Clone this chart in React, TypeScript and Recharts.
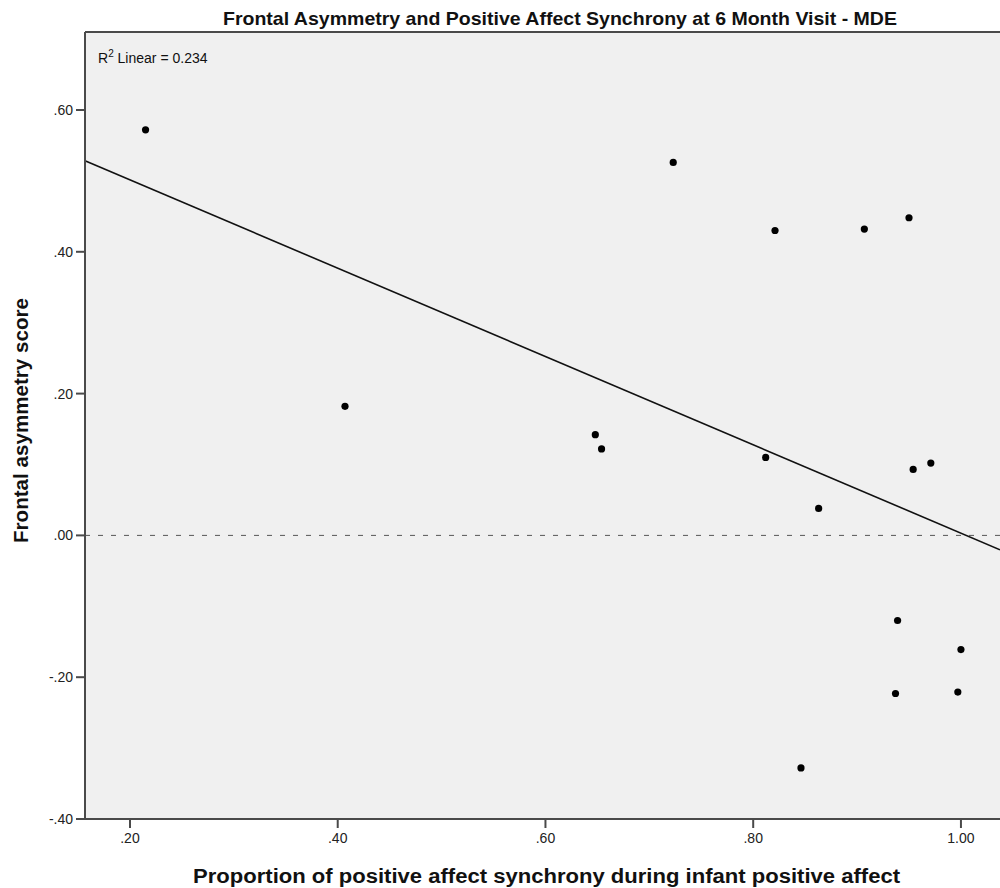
import React from 'react';
import { ScatterChart, Scatter, XAxis, YAxis, ReferenceLine, ReferenceArea } from 'recharts';

// Proportion of positive affect synchrony during infant positive affect
const synchrony = [0.215, 0.407, 0.723, 0.821, 0.907, 0.950, 0.648, 0.654, 0.812, 0.954, 0.971, 0.863, 0.939, 1.0, 0.937, 0.997, 0.846];
// Frontal asymmetry score
const asymmetry = [0.572, 0.182, 0.526, 0.430, 0.432, 0.448, 0.142, 0.122, 0.110, 0.093, 0.102, 0.038, -0.120, -0.161, -0.223, -0.221, -0.328];

const xTicks = [0.2, 0.4, 0.6, 0.8, 1.0];
const yTicks = [-0.4, -0.2, 0, 0.2, 0.4, 0.6];
const xDomain = [0.1567, 1.0376];
const yDomain = [-0.4, 0.71];

const points = synchrony.map((x, i) => ({ x, y: asymmetry[i] }));

// least squares fit
const n = synchrony.length;
const mx = synchrony.reduce((a, b) => a + b, 0) / n;
const my = asymmetry.reduce((a, b) => a + b, 0) / n;
let sxy = 0, sxx = 0;
for (let i = 0; i < n; i++) {
  sxy += (synchrony[i] - mx) * (asymmetry[i] - my);
  sxx += (synchrony[i] - mx) ** 2;
}
const slope = sxy / sxx;
const intercept = my - slope * mx;
const fitSegment = [
  { x: xDomain[0], y: intercept + slope * xDomain[0] },
  { x: xDomain[1], y: intercept + slope * xDomain[1] },
];

const fmt = (v: number) => {
  if (Math.abs(v - 1) < 1e-9) return '1.00';
  const s = Math.abs(v).toFixed(2).replace(/^0/, '');
  return v < -1e-9 ? '-' + s : s;
};

const FONT = '"Liberation Sans", Arial, sans-serif';
const AXIS = '#4a4a4a';

const Dot = (props: any) => <circle cx={props.cx} cy={props.cy} r={3.6} fill="#000" />;

export default function App() {
  return (
    <div style={{ position: 'absolute', left: 0, top: 0, width: 1000, height: 888, background: '#fff', fontFamily: FONT }}>
      <ScatterChart width={1000} height={888} margin={{ top: 32, right: 0, bottom: 0, left: 0 }}>
        <XAxis
          type="number"
          dataKey="x"
          domain={xDomain}
          allowDataOverflow
          ticks={xTicks}
          tickFormatter={fmt}
          height={69}
          tickSize={9}
          tickMargin={5}
          axisLine={{ stroke: AXIS, strokeWidth: 2 }}
          tickLine={{ stroke: AXIS, strokeWidth: 2 }}
          tick={{ fill: '#222', fontSize: 14, fontFamily: FONT }}
        />
        <YAxis
          type="number"
          dataKey="y"
          domain={yDomain}
          allowDataOverflow
          ticks={yTicks}
          tickFormatter={fmt}
          width={85}
          tickSize={9}
          tickMargin={3}
          axisLine={{ stroke: AXIS, strokeWidth: 2 }}
          tickLine={{ stroke: AXIS, strokeWidth: 2 }}
          tick={{ fill: '#222', fontSize: 14, fontFamily: FONT }}
        />
        <ReferenceArea x1={xDomain[0]} x2={xDomain[1]} y1={yDomain[0]} y2={yDomain[1]} fill="#f0f0f0" fillOpacity={1} stroke="none" />
        <ReferenceLine y={yDomain[1]} stroke={AXIS} strokeWidth={2} />
        <ReferenceLine y={0} stroke="#555" strokeWidth={1} strokeDasharray="5 8" />
        <ReferenceLine segment={fitSegment} stroke="#111" strokeWidth={1.6} />
        <Scatter data={points} shape={<Dot />} isAnimationActive={false} />
      </ScatterChart>
      <svg width={1000} height={888} style={{ position: 'absolute', left: 0, top: 0, pointerEvents: 'none' }}>
        <text x={560} y={25} textAnchor="middle" fontFamily={FONT} fontWeight="bold" fontSize={19} fill="#111" textLength={674} lengthAdjust="spacingAndGlyphs">
          Frontal Asymmetry and Positive Affect Synchrony at 6 Month Visit - MDE
        </text>
        <text x={546.5} y={883} textAnchor="middle" fontFamily={FONT} fontWeight="bold" fontSize={20} fill="#111" textLength={707} lengthAdjust="spacingAndGlyphs">
          Proportion of positive affect synchrony during infant positive affect
        </text>
        <text x={0} y={0} transform="translate(28,420.5) rotate(-90)" textAnchor="middle" fontFamily={FONT} fontWeight="bold" fontSize={20} fill="#111" textLength={245} lengthAdjust="spacingAndGlyphs">
          Frontal asymmetry score
        </text>
        <text x={98} y={63} fontFamily={FONT} fontSize={14} fill="#111">
          R<tspan dy={-6} fontSize={10}>2</tspan><tspan dy={6}> Linear = 0.234</tspan>
        </text>
      </svg>
    </div>
  );
}
